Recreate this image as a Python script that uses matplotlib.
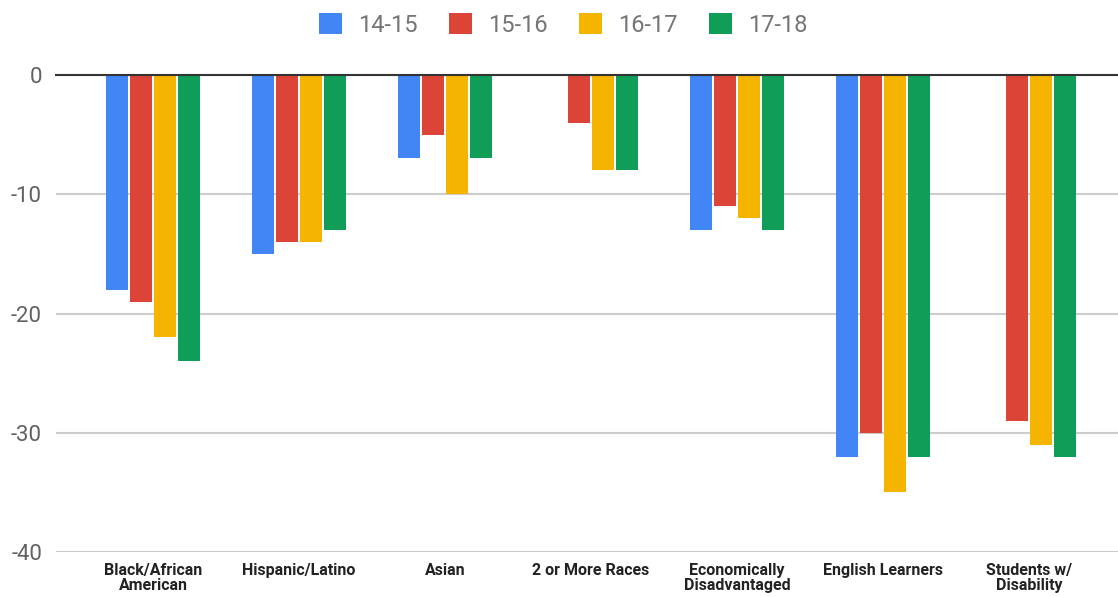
import matplotlib.pyplot as plt
from matplotlib.legend_handler import HandlerPatch
from matplotlib.patches import FancyBboxPatch
import numpy as np

plt.rcParams['font.family'] = ['Roboto', 'DejaVu Sans']

categories = ["Black/African\nAmerican", "Hispanic/Latino", "Asian", "2 or More Races",
              "Economically\nDisadvantaged", "English Learners", "Students w/\nDisability"]
years = ["14-15", "15-16", "16-17", "17-18"]
v1415 = [-18, -15, -7, np.nan, -13, -32, np.nan]
v1516 = [-19, -14, -5, -4, -11, -30, -29]
v1617 = [-22, -14, -10, -8, -12, -35, -31]
v1718 = [-24, -13, -7, -8, -13, -32, -32]
colors = ["#4285F4", "#DB4437", "#F4B400", "#0F9D58"]

series = [v1415, v1516, v1617, v1718]

fig = plt.figure(figsize=(11.18, 5.97), dpi=100)
ax = fig.add_axes([56 / 1118, 45 / 597, 1 - 56 / 1118, (552 - 75) / 597])

x = np.arange(len(categories))
step = 0.164
width = 0.15
for k, vals in enumerate(series):
    ax.bar(x + (k - 1.5) * step, vals, width, color=colors[k], label=years[k], zorder=3)

ax.set_xlim(-0.664, 6.61)
ax.set_ylim(-40, 0)
ax.set_yticks([0, -10, -20, -30, -40])
ax.set_yticklabels(["0", "-10", "-20", "-30", "-40"])
ax.yaxis.grid(True, color="#cccccc", linewidth=1.5, zorder=0)
ax.axhline(0, color="#333333", linewidth=1.5, zorder=4, clip_on=False)
for s in ax.spines.values():
    s.set_visible(False)
ax.tick_params(axis="y", length=0, labelsize=16, labelcolor="#616161", pad=10)
ax.tick_params(axis="x", length=0, pad=8)
ax.set_xticks(x)
ax.set_xticklabels(categories, fontsize=11.5, fontweight="bold", color="#222222", linespacing=1.0)


# rounded squares for the legend keys
def rounded_key(legend, orig_handle, xdescent, ydescent, width, height, fontsize):
    side = min(width, height)
    return FancyBboxPatch((-xdescent + (width - side) / 2, -ydescent + (height - side) / 2),
                          side, side, boxstyle="round,pad=0,rounding_size=2.5")


fig.legend(loc="upper center", bbox_to_anchor=(0.5035, 1.006), ncol=4, frameon=False,
           fontsize=17, handlelength=1.0, handleheight=1.0, columnspacing=1.33,
           handletextpad=0.65, labelcolor="#757575", borderaxespad=0.3,
           handler_map={plt.Rectangle: HandlerPatch(patch_func=rounded_key)})

fig.savefig("out.png", dpi=100)
